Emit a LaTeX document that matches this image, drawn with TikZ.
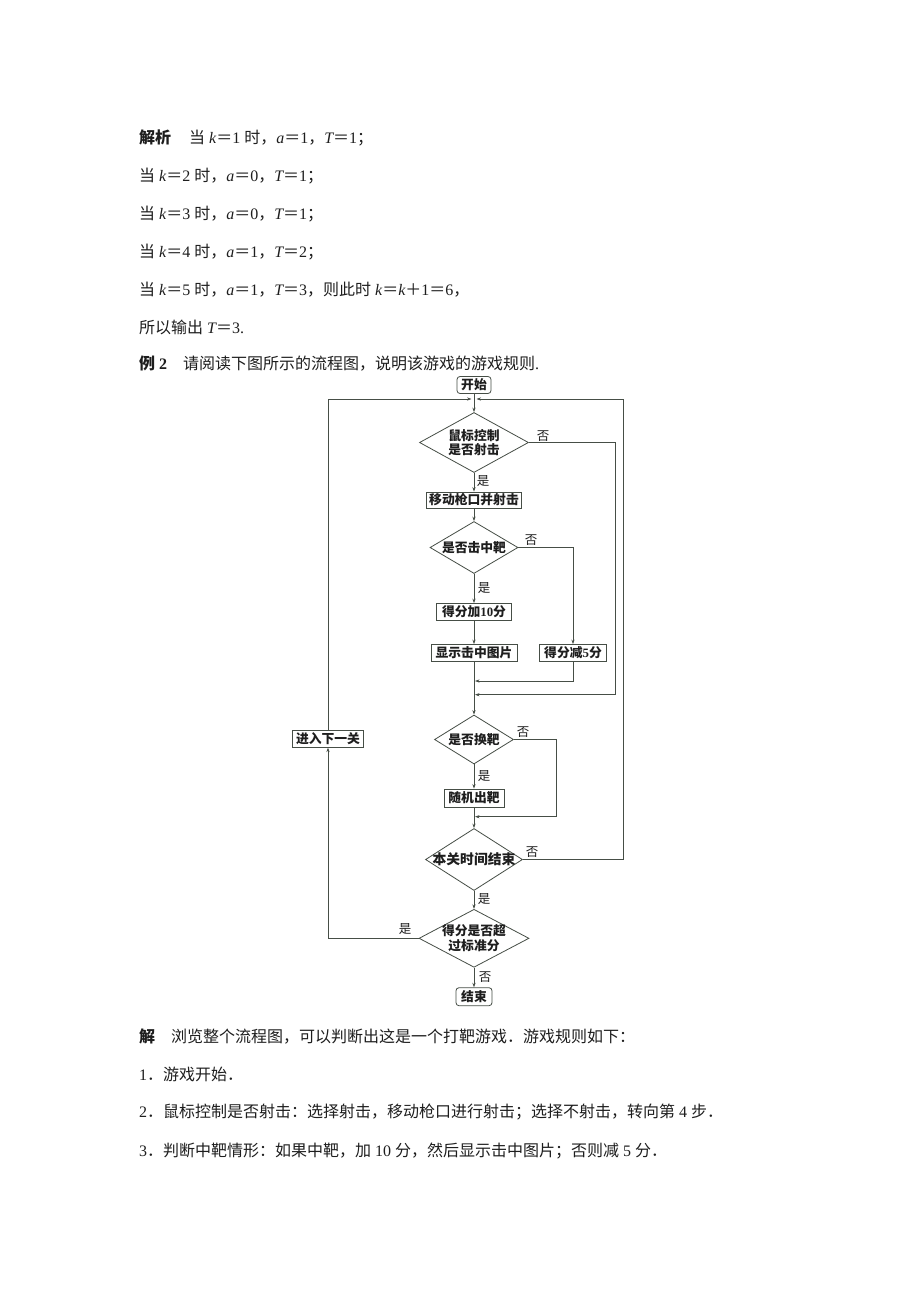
\documentclass[tikz,border=0pt]{standalone}
\usepackage{fontspec}
\setmainfont{Noto Sans CJK SC}
\newfontfamily\lat{Liberation Serif}
\usetikzlibrary{shapes.geometric,arrows.meta}
\newcommand\myit[1]{{\lat\itshape #1}}
\newcommand\myrm[1]{{\lat #1}}
\newcommand\gp{\hspace{4pt}}
\definecolor{lc}{RGB}{70,78,70}
\definecolor{tc}{RGB}{30,30,30}
\begin{document}
\begin{tikzpicture}[x=1pt,y=-1pt,
  fc/.style={font=\bfseries\fontsize{12.8}{14.5}\selectfont},
  pbox/.style={draw=lc, line width=0.8pt, inner sep=0pt, fc, text=tc},
  rbox/.style={pbox, rounded corners=3pt},
  dia/.style={draw=lc, line width=0.8pt, shape=diamond, inner sep=0pt},
  dtext/.style={fc, align=center, inner sep=0pt, text=tc},
  arr/.style={draw=lc, line width=0.7pt, -{Stealth[length=4.5pt,width=3.2pt]}},
  lab/.style={font=\fontsize{12.5}{14.5}\selectfont, inner sep=0pt, text=tc},
  body/.style={anchor=west, inner sep=0pt, font=\fontsize{16}{18}\selectfont, text=tc}
]
\useasboundingbox (0,0) rectangle (920,1302);
\fill[white] (0,0) rectangle (920,1302);

% body text above
\node[body] (t1) at (139,138) {{\bfseries 解析}\hspace{18pt}当\gp\myit{k}＝\myrm{1}\gp 时，\myit{a}＝\myrm{1}，\myit{T}＝\myrm{1}；};
\node[body] (t2) at (139,176.5) {当\gp\myit{k}＝\myrm{2}\gp 时，\myit{a}＝\myrm{0}，\myit{T}＝\myrm{1}；};
\node[body] (t3) at (139,214) {当\gp\myit{k}＝\myrm{3}\gp 时，\myit{a}＝\myrm{0}，\myit{T}＝\myrm{1}；};
\node[body] (t4) at (139,252) {当\gp\myit{k}＝\myrm{4}\gp 时，\myit{a}＝\myrm{1}，\myit{T}＝\myrm{2}；};
\node[body] (t5) at (139,290) {当\gp\myit{k}＝\myrm{5}\gp 时，\myit{a}＝\myrm{1}，\myit{T}＝\myrm{3}，则此时\gp\myit{k}＝\myit{k}＋\myrm{1}＝\myrm{6}，};
\node[body] (t6) at (139,327.5) {所以输出\gp\myit{T}＝\myrm{3.}};
\node[body] (t7) at (139,363.5) {{\bfseries 例\gp\myrm{2}}\hspace{16pt}请阅读下图所示的流程图，说明该游戏的游戏规则\myrm{.}};

% flowchart nodes
\node[rbox, minimum width=34pt, minimum height=17pt] (start) at (474,385) {开始};
\coordinate (j) at (474,399);
\node[dia, minimum width=109pt, minimum height=60pt] (d1) at (474,442.5) {};
\node[dtext] at (d1) {鼠标控制\\是否射击};
\node[pbox, minimum width=95pt, minimum height=16pt] (b1) at (474,500) {移动枪口并射击};
\node[dia, minimum width=88pt, minimum height=52pt] (d2) at (474,547.5) {};
\node[dtext] at (d2) {是否击中靶};
\node[pbox, minimum width=75pt, minimum height=17pt] (b10) at (474,612) {得分加\myrm{10}分};
\node[pbox, minimum width=86pt, minimum height=17pt] (bshow) at (474,653) {显示击中图片};
\node[pbox, minimum width=67pt, minimum height=17pt] (b5) at (573,653) {得分减\myrm{5}分};
\coordinate (m2) at (474,681);
\coordinate (m1) at (474,694.7);
\node[dia, minimum width=79pt, minimum height=49pt] (d3) at (474,739.5) {};
\node[dtext] at (d3) {是否换靶};
\node[pbox, minimum width=60pt, minimum height=18pt] (brand) at (474,798) {随机出靶};
\coordinate (m3) at (474,816.7);
\node[dia, minimum width=97pt, minimum height=62pt] (d4) at (474,859.5) {};
\node[dtext, font=\bfseries\fontsize{13.8}{15}\selectfont] at (d4) {本关时间结束};
\node[dia, minimum width=110pt, minimum height=58pt] (d5) at (474,938.3) {};
\node[dtext] at (d5) {得分是否超\\过标准分};
\node[pbox, minimum width=71pt, minimum height=17pt] (bnext) at (328,738.7) {进入下一关};
\node[rbox, minimum width=36pt, minimum height=18pt] (endn) at (474,996.7) {结束};

% connectors
\draw[arr] (start.south) -- (d1.north);
\draw[arr, shorten >=2.5pt] (bnext.north) |- (j);
\draw[arr, shorten >=2.5pt] (d4.east) -| (623,399) -- (j);
\draw[arr] (d1.south) -- (b1.north);
\draw[arr, shorten >=1pt] (d1.east) -| (615,694.7) -- (m1);
\draw[arr] (b1.south) -- (d2.north);
\draw[arr] (d2.south) -- (b10.north);
\draw[arr] (d2.east) -| (b5.north);
\draw[arr] (b10.south) -- (bshow.north);
\draw[arr, shorten >=1pt] (b5.south) |- (m2);
\draw[arr] (bshow.south) -- (d3.north);
\draw[arr] (d3.south) -- (brand.north);
\draw[arr, shorten >=1pt] (d3.east) -| (556.7,816.7) -- (m3);
\draw[arr] (brand.south) -- (d4.north);
\draw[arr] (d4.south) -- (d5.north);
\draw[arr] (d5.west) -| (bnext.south);
\draw[arr] (d5.south) -- (endn.north);

% branch labels
\node[lab] (l1) at (543,436.5) {否};
\node[lab] (l2) at (483,481) {是};
\node[lab] (l3) at (531,540.5) {否};
\node[lab] (l4) at (484,588) {是};
\node[lab] (l5) at (523,732) {否};
\node[lab] (l6) at (484,776) {是};
\node[lab] (l7) at (532,852.5) {否};
\node[lab] (l8) at (484,899) {是};
\node[lab] (l9) at (405,929.3) {是};
\node[lab] (l10) at (485,976.7) {否};

% body text below
\node[body] (s1) at (139,1036) {{\bfseries 解}\hspace{16pt}浏览整个流程图，可以判断出这是一个打靶游戏．游戏规则如下：};
\node[body] (s2) at (139,1074) {\myrm{1}．游戏开始．};
\node[body] (s3) at (139,1112) {\myrm{2}．鼠标控制是否射击：选择射击，移动枪口进行射击；选择不射击，转向第\gp\myrm{4}\gp 步．};
\node[body] (s4) at (139,1150.5) {\myrm{3}．判断中靶情形：如果中靶，加\gp\myrm{10}\gp 分，然后显示击中图片；否则减\gp\myrm{5}\gp 分．};
\end{tikzpicture}
\end{document}
